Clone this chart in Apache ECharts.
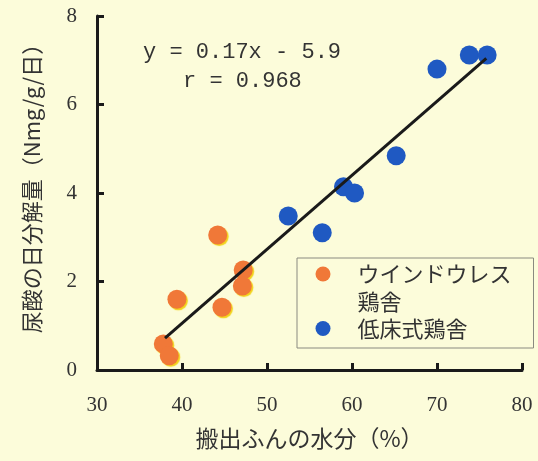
<!DOCTYPE html>
<html>
<head>
<meta charset="utf-8">
<script src="https://cdn.jsdelivr.net/npm/echarts@6/dist/echarts.min.js"></script>
<style>
  html, body { margin: 0; padding: 0; background: #fcfcda; }
  #container { width: 538px; height: 461px; }
</style>
</head>
<body>
<div id="container"></div>
<script>
var dom = document.getElementById("container");
var myChart = echarts.init(dom);

// ウインドウレス鶏舎
var windowlessX = [37.8, 38.5, 39.4, 44.2, 44.7, 47.2, 47.1];
var windowlessY = [0.59, 0.32, 1.60, 3.05, 1.42, 2.26, 1.90];
// 低床式鶏舎
var lowFloorX = [52.5, 56.5, 59.0, 60.3, 65.2, 70.0, 73.8, 75.9];
var lowFloorY = [3.48, 3.10, 4.14, 4.00, 4.84, 6.80, 7.12, 7.12];
// 回帰直線の端点
var fitX = [38.0, 75.8];
var fitY = [0.72, 7.04];

var seriesNames = ['ウインドウレス\n鶏舎', '低床式鶏舎'];
var xTicks = [30, 40, 50, 60, 70, 80];
var yTicks = [0, 2, 4, 6, 8];
var eqLines = ['y = 0.17x - 5.9', 'r = 0.968'];

function pairs(xs, ys) {
    return xs.map(function (x, i) { return [x, ys[i]]; });
}

var axisFont = { fontFamily: 'Liberation Serif', fontSize: 21, color: '#333' };

var option = {
    backgroundColor: '#fcfcda',
    animation: false,
    grid: { left: 97, right: 16, top: 16, bottom: 91 },
    xAxis: {
        type: 'value',
        min: xTicks[0],
        max: xTicks[xTicks.length - 1],
        interval: 10,
        name: '搬出ふんの水分（%）',
        nameLocation: 'middle',
        nameGap: 57,
        nameTextStyle: { fontFamily: 'Noto Sans CJK JP', fontSize: 23, color: '#333' },
        axisLine: { lineStyle: { color: '#1a1a1a', width: 3 } },
        axisTick: { inside: true, length: 7, lineStyle: { color: '#1a1a1a', width: 3 } },
        axisLabel: Object.assign({ margin: 25 }, axisFont),
        splitLine: { show: false }
    },
    yAxis: {
        type: 'value',
        min: yTicks[0],
        max: yTicks[yTicks.length - 1],
        interval: 2,
        name: '尿酸の日分解量（Nmg/g/日）',
        nameLocation: 'middle',
        nameRotate: 90,
        nameGap: 54,
        nameTextStyle: { fontFamily: 'Noto Sans CJK JP', fontSize: 22, color: '#333', padding: [0, 0, 0, 20] },
        axisLine: { show: true, lineStyle: { color: '#1a1a1a', width: 3 } },
        axisTick: { show: true, inside: true, length: 7, lineStyle: { color: '#1a1a1a', width: 3 } },
        axisLabel: Object.assign({ margin: 20 }, axisFont),
        splitLine: { show: false }
    },
    legend: {
        orient: 'vertical',
        left: 297,
        top: 258,
        padding: [1.5, 22, 5.5, 18.5],
        itemWidth: 15,
        itemHeight: 54,
        itemGap: -1,
        borderColor: '#8a8a80',
        borderWidth: 1,
        textStyle: {
            fontFamily: 'Noto Sans CJK JP', fontSize: 22, lineHeight: 28, color: '#333',
            padding: [0, 0, 0, 22]
        },
        data: [
            { name: seriesNames[0], icon: 'path://M5,0M0,9a5,5 0 1,0 10,0a5,5 0 1,0 -10,0M5,36' },
            { name: seriesNames[1], icon: 'circle' }
        ]
    },
    graphic: [
        {
            type: 'text', left: 243 - 100, top: 41,
            style: { text: eqLines[0], font: '22px "Liberation Mono"', fill: '#333' }
        },
        {
            type: 'text', left: 243 - 60, top: 70,
            style: { text: eqLines[1], font: '22px "Liberation Mono"', fill: '#333' }
        }
    ],
    series: [
        {
            name: seriesNames[0],
            type: 'scatter',
            symbolSize: 19,
            itemStyle: {
                color: '#f07838',
                opacity: 1,
                shadowColor: '#f2d21a',
                shadowBlur: 1,
                shadowOffsetX: 1.5,
                shadowOffsetY: 1.5
            },
            data: pairs(windowlessX, windowlessY)
        },
        {
            name: seriesNames[1],
            type: 'scatter',
            symbolSize: 19,
            itemStyle: { color: '#1f59c2', opacity: 1 },
            data: pairs(lowFloorX, lowFloorY)
        },
        {
            name: 'fit',
            type: 'line',
            showSymbol: false,
            symbol: 'none',
            z: 5,
            lineStyle: { color: '#1a1a1a', width: 3 },
            data: pairs(fitX, fitY)
        }
    ]
};

if (option && typeof option === "object") {
    myChart.setOption(option, true);
}
</script>
</body>
</html>
